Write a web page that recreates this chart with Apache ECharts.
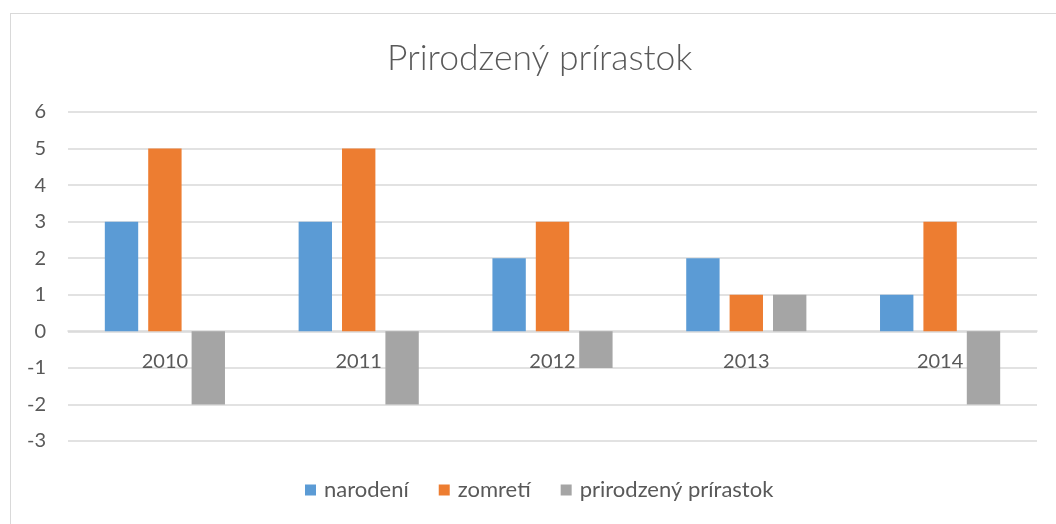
<!DOCTYPE html>
<html>
<head>
<meta charset="utf-8">
<script src="https://cdn.jsdelivr.net/npm/echarts@6/dist/echarts.min.js"></script>
<style>
  html, body { margin: 0; padding: 0; background: #fff; }
  #wrap { position: relative; width: 1056px; height: 524px; overflow: hidden; }
  #frame { position: absolute; left: 10px; top: 13px; width: 1060px; height: 530px; border: 1px solid #d9d9d9; box-sizing: border-box; }
  #chart { position: absolute; left: 0; top: 0; width: 1056px; height: 524px; }
</style>
</head>
<body>
<div id="wrap">
  <div id="frame"></div>
  <div id="chart"></div>
</div>
<script>
// roky
var roky = ['2010', '2011', '2012', '2013', '2014'];
// hodnoty
var narodeni = [3, 3, 2, 2, 1];
var zomreti = [5, 5, 3, 1, 3];
var prirastok = [-2, -2, -1, 1, -2];

var textColor = '#595959';
var font = 'Lato, "Open Sans", sans-serif';

var myChart = echarts.init(document.getElementById('chart'));

var option = {
  animation: false,
  title: {
    text: 'Prirodzený prírastok',
    left: 382,
    top: 36,
    textStyle: { color: textColor, fontSize: 35.5, fontWeight: 300, fontFamily: font }
  },
  legend: {
    bottom: 18,
    left: 300,
    icon: 'rect',
    itemWidth: 11,
    itemHeight: 11,
    itemGap: 30,
    textStyle: { color: textColor, fontSize: 22, fontFamily: font, padding: [0, 0, 0, 3] }
  },
  grid: { left: 68, right: 19, top: 112, bottom: 83 },
  xAxis: {
    type: 'category',
    data: roky,
    // popisky pri nulovej ciare
    offset: -110,
    axisLine: { show: true, onZero: false, lineStyle: { color: '#d9d9d9', width: 1.5 } },
    axisTick: { show: false },
    axisLabel: { color: textColor, fontSize: 20, fontFamily: font, margin: 21 }
  },
  yAxis: {
    type: 'value',
    min: -3,
    max: 6,
    interval: 1,
    axisLine: { show: false },
    axisTick: { show: false },
    axisLabel: { color: textColor, fontSize: 20, fontFamily: font, margin: 22 },
    splitLine: { lineStyle: { color: '#d9d9d9', width: 1.5 } }
  },
  series: [
    { name: 'narodení', type: 'bar', data: narodeni, itemStyle: { color: '#5B9BD5' }, barGap: '30%', barCategoryGap: '38%' },
    { name: 'zomretí', type: 'bar', data: zomreti, itemStyle: { color: '#ED7D31' } },
    { name: 'prirodzený prírastok', type: 'bar', data: prirastok, itemStyle: { color: '#A5A5A5' } }
  ]
};

myChart.setOption(option);
</script>
</body>
</html>
